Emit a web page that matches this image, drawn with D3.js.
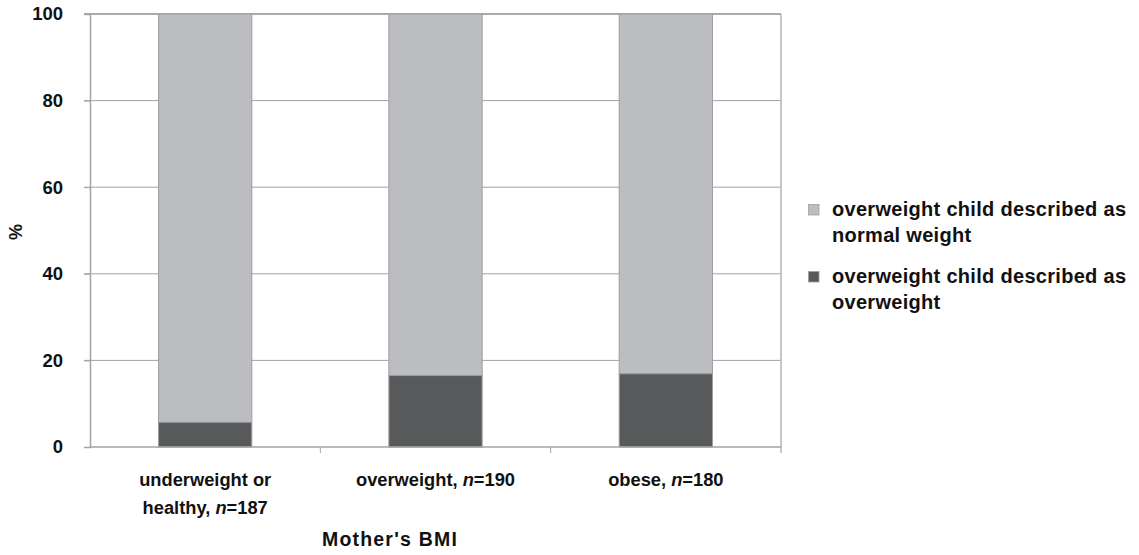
<!DOCTYPE html>
<html><head><meta charset="utf-8">
<script src="https://cdn.jsdelivr.net/npm/d3@7"></script>
<style>body{margin:0;background:#fff;} text{font-family:"Liberation Sans",Arial,sans-serif;font-weight:bold;fill:#111;}</style>
</head><body>
<svg id="c" width="1139" height="555"></svg>
<script>
const categories = ["underweight or healthy", "overweight", "obese"];
const categoryN = [187, 190, 180];
const describedOverweight = [5.7, 16.5, 16.9];
const describedNormal = [94.3, 83.5, 83.1];
const seriesNames = ["overweight child described as normal weight", "overweight child described as overweight"];
const yTicks = [0, 20, 40, 60, 80, 100];

const svg = d3.select("#c");
const m = {l: 90, r: 781, t: 14, b: 447};
const x = d3.scaleBand().domain(categories).range([m.l, m.r]).padding(0);
const y = d3.scaleLinear().domain([0, 100]).range([m.b, m.t]);
const colDark = "#58595b", colLight = "#bcbdc0", gridCol = "#a3a3a3";

// gridlines
svg.append("g").selectAll("line").data(yTicks.filter(d => d > 0)).join("line")
  .attr("x1", m.l - 6).attr("x2", m.r).attr("y1", d => y(d)).attr("y2", d => y(d))
  .attr("stroke", d => d === 100 ? "#8e8e8e" : gridCol).attr("stroke-width", d => d === 100 ? 1.6 : 1);
// right border
svg.append("line").attr("x1", m.r).attr("x2", m.r).attr("y1", m.t).attr("y2", m.b + 6)
  .attr("stroke", "#b5b5b5").attr("stroke-width", 1.5);

// bars
const bw = x.bandwidth() * 0.405;
const stack = categories.map((c, i) => ({c, dark: describedOverweight[i], light: describedNormal[i]}));
const g = svg.append("g");
g.selectAll("rect.light").data(stack).join("rect").attr("class", "light")
  .attr("x", d => x(d.c) + (x.bandwidth() - bw) / 2).attr("width", bw)
  .attr("y", d => y(d.dark + d.light)).attr("height", d => y(d.dark) - y(d.dark + d.light))
  .attr("fill", colLight).attr("stroke", "#9d9ea0").attr("stroke-width", 1);
g.selectAll("rect.dark").data(stack).join("rect").attr("class", "dark")
  .attr("x", d => x(d.c) + (x.bandwidth() - bw) / 2).attr("width", bw)
  .attr("y", d => y(d.dark)).attr("height", d => y(0) - y(d.dark))
  .attr("fill", colDark).attr("stroke", "#9d9ea0").attr("stroke-width", 1);

// y axis
const ya = svg.append("g").attr("transform", `translate(${m.l},0)`)
  .call(d3.axisLeft(y).tickValues(yTicks).tickSize(6).tickPadding(21));
ya.select(".domain").attr("stroke", gridCol).attr("stroke-width", 1.5);
ya.selectAll(".tick line").attr("stroke", gridCol);
ya.selectAll(".tick text").style("font-size", "18.5px").attr("fill", "#111").style("font-weight", "bold")
  .attr("font-family", null);

// x axis
const xa = svg.append("g").attr("transform", `translate(0,${m.b})`);
xa.append("line").attr("x1", m.l).attr("x2", m.r).attr("y1", 0).attr("y2", 0).attr("stroke", gridCol).attr("stroke-width", 1.5);
xa.selectAll("line.tk").data(categories.slice(1)).join("line").attr("class", "tk")
  .attr("x1", d => x(d)).attr("x2", d => x(d)).attr("y1", 0).attr("y2", 6).attr("stroke", gridCol);

// category labels
const fsCat = "18.3px";
categories.forEach((c, i) => {
  const cx = x(c) + x.bandwidth() / 2;
  if (i === 0) {
    svg.append("text").attr("text-anchor", "middle").style("font-size", fsCat)
      .attr("x", cx).attr("y", 486).text("underweight or");
    const t2 = svg.append("text").attr("text-anchor", "middle").style("font-size", fsCat).attr("x", cx).attr("y", 514);
    t2.append("tspan").text("healthy, ");
    t2.append("tspan").style("font-style", "italic").text("n");
    t2.append("tspan").text("=" + categoryN[i]);
  } else {
    const t = svg.append("text").attr("text-anchor", "middle").style("font-size", fsCat).attr("x", cx).attr("y", 486);
    t.append("tspan").text(c + ", ");
    t.append("tspan").style("font-style", "italic").text("n");
    t.append("tspan").text("=" + categoryN[i]);
  }
});

// axis titles
svg.append("text").attr("x", 390).attr("y", 546).attr("text-anchor", "middle")
  .style("font-size", "19.5px").style("letter-spacing", "1.2px").text("Mother's BMI");
svg.append("text").attr("transform", "translate(22,232) rotate(-90)").attr("text-anchor", "middle")
  .style("font-size", "18px").text("%");

// legend
const legendLines = [["overweight child described as", "normal weight"], ["overweight child described as", "overweight"]];
const legCols = [colLight, colDark];
const legY = [216, 283];
legendLines.forEach((lines, i) => {
  svg.append("rect").attr("x", 808.5).attr("y", legY[i] - 11.5).attr("width", 10.5).attr("height", 10.5)
    .attr("fill", legCols[i]).attr("stroke", "#9d9ea0").attr("stroke-width", 0.8);
  lines.forEach((ln, j) => {
    svg.append("text").attr("x", 832).attr("y", legY[i] + j * 25.5).style("font-size", "20px")
      .style("letter-spacing", "0.3px").text(ln);
  });
});
</script>
</body></html>
